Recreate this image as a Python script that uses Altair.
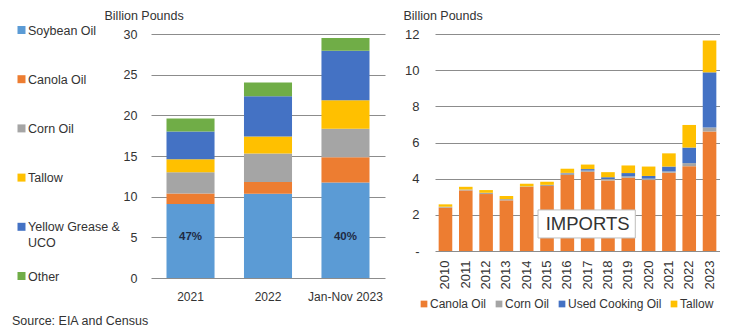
import altair as alt
import pandas as pd

FONT = "Liberation Sans"
TXT = "#333333"
GRID = "#8c8c8c"

# ---- Left panel: feedstock use (billion pounds) ----
feed_periods = ["2021", "2022", "Jan-Nov 2023"]
feed_names = ["Soybean Oil", "Canola Oil", "Corn Oil", "Tallow", "Yellow Grease & UCO", "Other"]
soybean = [9.1, 10.35, 11.75]
canola = [1.3, 1.45, 3.1]
corn = [2.6, 3.5, 3.5]
tallow = [1.6, 2.1, 3.5]
yellow_grease = [3.4, 4.95, 6.1]
other = [1.6, 1.7, 1.55]
feed_colors = ["#5B9BD5", "#ED7D31", "#A5A5A5", "#FFC000", "#4472C4", "#70AD47"]
pct_periods = ["2021", "Jan-Nov 2023"]
pct_labels = ["47%", "40%"]
source_note = ["Source: EIA and Census"]

# ---- Right panel: imports (billion pounds) ----
imp_years = ["2010", "2011", "2012", "2013", "2014", "2015", "2016",
             "2017", "2018", "2019", "2020", "2021", "2022", "2023"]
imp_names = ["Canola Oil", "Corn Oil", "Used Cooking Oil", "Tallow"]
imp_canola = [2.40, 3.35, 3.15, 2.80, 3.54, 3.59, 4.20, 4.38, 3.90, 4.05, 3.92, 4.33, 4.69, 6.61]
imp_corn = [0.05, 0.05, 0.07, 0.07, 0.03, 0.07, 0.10, 0.07, 0.08, 0.08, 0.08, 0.07, 0.17, 0.22]
imp_uco = [0.00, 0.00, 0.00, 0.00, 0.00, 0.00, 0.02, 0.08, 0.10, 0.18, 0.15, 0.27, 0.86, 3.05]
imp_tallow = [0.13, 0.15, 0.15, 0.17, 0.15, 0.17, 0.23, 0.25, 0.28, 0.42, 0.52, 0.73, 1.25, 1.76]
imp_colors = ["#ED7D31", "#A5A5A5", "#4472C4", "#FFC000"]
imports_label = ["IMPORTS"]

# ---- build tables ----
feed_series = [soybean, canola, corn, tallow, yellow_grease, other]
feed_rows = []
for k, (name, vals) in enumerate(zip(feed_names, feed_series)):
    for p, v in zip(feed_periods, vals):
        feed_rows.append({"period": p, "feed": name, "value": v, "order": k})
feed_df = pd.DataFrame(feed_rows)
pct_df = pd.DataFrame({"period": pct_periods, "label": pct_labels})
legend_df = pd.DataFrame({"feed": feed_names})
source_df = pd.DataFrame({"text": source_note})

imp_series = [imp_canola, imp_corn, imp_uco, imp_tallow]
imp_rows = []
for k, (name, vals) in enumerate(zip(imp_names, imp_series)):
    for y, v in zip(imp_years, vals):
        imp_rows.append({"year": y, "oil": name, "value": v, "order": k})
imp_df = pd.DataFrame(imp_rows)
ann_df = pd.DataFrame({"text": imports_label})

# ---- legend view (left) ----
feed_color_scale = alt.Scale(domain=feed_names, range=feed_colors)
leg_y = alt.Y("feed:N", scale=alt.Scale(domain=feed_names, range=[-4, 242], padding=0), axis=None)
leg_squares = alt.Chart(legend_df).mark_square(size=64, opacity=1).encode(
    x=alt.value(9.5),
    y=leg_y,
    color=alt.Color("feed:N", scale=feed_color_scale, legend=None),
)
leg_text = alt.Chart(legend_df).transform_calculate(
    lab="replace(datum.feed, '& ', '&\\n')"
).mark_text(align="left", baseline="alphabetic", dy=4.5, lineBreak="\n",
            fontSize=12.5, font=FONT, color=TXT, lineHeight=16).encode(
    x=alt.value(16),
    y=leg_y,
    text="lab:N",
)
src_text = alt.Chart(source_df).mark_text(
    align="left", baseline="alphabetic", fontSize=12.5, font=FONT, color=TXT
).encode(x=alt.value(0), y=alt.value(291), text="text:N")
legend_view = alt.layer(leg_squares, leg_text, src_text).properties(width=89, height=244)

# ---- left bar chart ----
left_x_axis = alt.Axis(title=None, labelAngle=0, ticks=False, domain=False,
                       labelPadding=13, labelFontSize=12, labelFont=FONT, labelColor=TXT)
left_y_axis = alt.Axis(values=[0, 5, 10, 15, 20, 25, 30], title="Billion Pounds",
                       titleAngle=0, titleAlign="left", titleBaseline="middle",
                       titleX=-47, titleY=-19, titleFontSize=12.5, titleFontWeight="normal",
                       titleFont=FONT, titleColor=TXT, labelOverlap=False,
                       ticks=False, domain=False, labelPadding=14, labelFontSize=12.5,
                       labelFont=FONT, labelColor=TXT, grid=True, gridColor=GRID)
left_x_scale = alt.Scale(domain=feed_periods, paddingInner=0.38, paddingOuter=0.2)
left_y_scale = alt.Scale(domain=[0, 30], nice=False)

left_bars = alt.Chart(feed_df).mark_bar().encode(
    x=alt.X("period:N", sort=feed_periods, scale=left_x_scale, axis=left_x_axis),
    y=alt.Y("value:Q", stack="zero", scale=left_y_scale, axis=left_y_axis),
    color=alt.Color("feed:N", scale=feed_color_scale, legend=None),
    order=alt.Order("order:Q"),
)
pct_text = alt.Chart(pct_df).mark_text(
    fontSize=11.5, fontWeight="bold", font=FONT, color="#1F2A44", baseline="middle"
).encode(x=alt.X("period:N", sort=feed_periods, scale=left_x_scale, axis=left_x_axis),
         y=alt.YDatum(5, scale=left_y_scale, axis=left_y_axis),
         text="label:N")
left_chart = alt.layer(left_bars, pct_text).properties(width=234, height=244)

# ---- right bar chart ----
right_x_axis = alt.Axis(title=None, labelAngle=-90, labelAlign="right", labelBaseline="middle",
                        ticks=False, domain=False, labelPadding=9, labelFontSize=13,
                        labelFont=FONT, labelColor=TXT)
right_y_axis = alt.Axis(values=[0, 2, 4, 6, 8, 10, 12], title="Billion Pounds",
                        labelExpr="datum.value == 0 ? '-' : datum.label",
                        titleAngle=0, titleAlign="left", titleBaseline="middle",
                        titleX=-32, titleY=-19, titleFontSize=12.5, titleFontWeight="normal",
                        titleFont=FONT, titleColor=TXT, labelOverlap=False,
                        ticks=False, domain=False, labelPadding=16, labelFontSize=13,
                        labelFont=FONT, labelColor=TXT, grid=True, gridColor=GRID)
right_x_scale = alt.Scale(domain=imp_years, paddingInner=0.33, paddingOuter=0.18)
right_y_scale = alt.Scale(domain=[0, 12], nice=False)

right_bars = alt.Chart(imp_df).mark_bar().encode(
    x=alt.X("year:N", sort=imp_years, scale=right_x_scale, axis=right_x_axis),
    y=alt.Y("value:Q", stack="zero", scale=right_y_scale, axis=right_y_axis),
    color=alt.Color("oil:N", scale=alt.Scale(domain=imp_names, range=imp_colors),
                    legend=alt.Legend(orient="none", direction="horizontal", legendX=-17,
                                      legendY=264, title=None, symbolType="square",
                                      symbolSize=45, symbolStrokeWidth=0, labelFontSize=12,
                                      labelFont=FONT, labelColor=TXT, columnPadding=6,
                                      labelOffset=0, padding=0)),
    order=alt.Order("order:Q"),
)
ann_box = alt.Chart(ann_df).mark_rect(
    fill="white", stroke="#bfbfbf", strokeWidth=1, xOffset=-9, x2Offset=7
).encode(x=alt.XDatum("2015", type="nominal", scale=right_x_scale, axis=right_x_axis),
         x2=alt.datum("2019"),
         y=alt.YDatum(0.72, scale=right_y_scale, axis=right_y_axis), y2=alt.datum(2.27))
ann_text = alt.Chart(ann_df).mark_text(
    fontSize=18.5, font=FONT, color=TXT, baseline="middle"
).encode(x=alt.XDatum("2017", type="nominal", scale=right_x_scale, axis=right_x_axis),
         y=alt.YDatum(1.49, scale=right_y_scale, axis=right_y_axis), text="text:N")
right_chart = alt.layer(right_bars, ann_box, ann_text).properties(width=285, height=217)

chart = alt.hconcat(legend_view, left_chart, right_chart, spacing=50, bounds="flush").resolve_scale(
    color="independent"
).resolve_legend(color="independent").properties(
    padding={"left": 12, "top": 9, "right": 0, "bottom": 0},
    background="white",
).configure_view(stroke=None)

chart.save("out.html", embed_options={"renderer": "svg", "actions": False})
